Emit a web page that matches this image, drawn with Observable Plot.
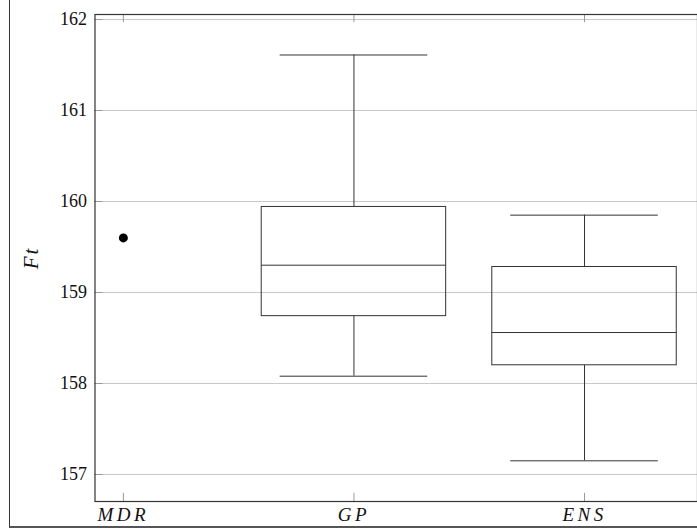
<!DOCTYPE html>
<html>
<head>
<meta charset="utf-8">
<script src="https://cdn.jsdelivr.net/npm/d3@7"></script>
<script src="https://cdn.jsdelivr.net/npm/@observablehq/plot@0.6"></script>
<style>
  html, body { margin: 0; padding: 0; background: #fff; }
  #wrap { position: relative; width: 697px; height: 530px; overflow: hidden; }
  #outer { position: absolute; left: 9px; top: -2px; width: 700px; height: 528px;
           border-left: 1.5px solid #333; border-bottom: 2px solid #555; pointer-events: none; }
  svg, svg text { font-family: "Liberation Serif", "DejaVu Serif", serif !important; }
  g[aria-label="x-axis tick label"] text { font-style: italic; letter-spacing: 3.5px; }
  g.ylab text { letter-spacing: 2px; }
</style>
</head>
<body>
<div id="wrap"><div id="outer"></div></div>
<script>
// ---- data ----
const categories = ["MDR", "GP", "ENS"];
const boxCategories = ["GP", "ENS"];
const lowerWhisker = [158.08, 157.15];
const lowerQuartile = [158.74, 158.20];
const medianValue = [159.30, 158.56];
const upperQuartile = [159.94, 159.28];
const upperWhisker = [161.61, 159.85];
const pointCategories = ["MDR"];
const pointValues = [159.60];
const yTicks = [157, 158, 159, 160, 161, 162];

// ---- derived tables ----
const pos = c => categories.indexOf(c) + 1;
const boxes = boxCategories.map((c, i) => ({
  cat: c, p: pos(c),
  lw: lowerWhisker[i], q1: lowerQuartile[i], med: medianValue[i],
  q3: upperQuartile[i], uw: upperWhisker[i]
}));
const points = pointCategories.map((c, i) => ({cat: c, p: pos(c), v: pointValues[i]}));
const catTicks = categories.map((c, i) => ({cat: c, p: i + 1}));

const xDomain = [0.877, 3.49];
const yDomain = [156.703, 162.055];
const boxHalf = 0.4, capHalf = 0.32;
const dark = "#333";
const serif = "Liberation Serif, DejaVu Serif, serif";

const chart = Plot.plot({
  width: 697,
  height: 530,
  marginLeft: 94.5,
  marginRight: 0,
  marginTop: 14,
  marginBottom: 29,
  x: {type: "linear", domain: xDomain},
  y: {type: "linear", domain: yDomain},
  style: "font-family: 'Liberation Serif', 'DejaVu Serif', serif; background: #fff;",
  marks: [
    // grid
    Plot.ruleY(yTicks, {stroke: "#c8c8c8", strokeWidth: 1}),
    // inward y ticks
    Plot.ruleY(yTicks, {x1: xDomain[0], x2: xDomain[0] + 0.035, stroke: "#999"}),
    // inward x ticks bottom & top
    Plot.ruleX(catTicks, {x: "p", y1: yDomain[0], y2: yDomain[0] + 0.09, stroke: "#999"}),
    Plot.ruleX(catTicks, {x: "p", y1: yDomain[1], y2: yDomain[1] - 0.09, stroke: "#999"}),
    // whiskers
    Plot.ruleX(boxes, {x: "p", y1: "q3", y2: "uw", stroke: dark}),
    Plot.ruleX(boxes, {x: "p", y1: "lw", y2: "q1", stroke: dark}),
    // caps
    Plot.ruleY(boxes, {y: "uw", x1: d => d.p - capHalf, x2: d => d.p + capHalf, stroke: dark}),
    Plot.ruleY(boxes, {y: "lw", x1: d => d.p - capHalf, x2: d => d.p + capHalf, stroke: dark}),
    // boxes
    Plot.rect(boxes, {x1: d => d.p - boxHalf, x2: d => d.p + boxHalf, y1: "q1", y2: "q3",
                      fill: "none", stroke: dark, strokeWidth: 1}),
    // medians
    Plot.ruleY(boxes, {y: "med", x1: d => d.p - boxHalf, x2: d => d.p + boxHalf, stroke: dark}),
    // single points
    Plot.dot(points, {x: "p", y: "v", r: 4.5, fill: "#000", stroke: "none"}),
    // frame
    Plot.frame({stroke: "#333", strokeWidth: 1.2}),
    // axes
    Plot.axisY(yTicks, {tickSize: 0, tickPadding: 8, fontSize: 18, fontFamily: serif, color: "#111",
      label: null, tickFormat: d => String(d)}),
    Plot.axisX(catTicks.map(d => d.p), {tickSize: 0, tickPadding: 6, fontSize: 19, fontFamily: serif,
      fontStyle: "italic", color: "#111", label: null, tickFormat: v => categories[v - 1]}),
    // y label
    Plot.text(["Ft"], {frameAnchor: "left", dx: -64, rotate: -90, textAnchor: "middle",
      fontSize: 21, fontFamily: serif, fontStyle: "italic", fill: "#111", className: "ylab"})
  ]
});
document.getElementById("wrap").prepend(chart);
</script>
</body>
</html>
